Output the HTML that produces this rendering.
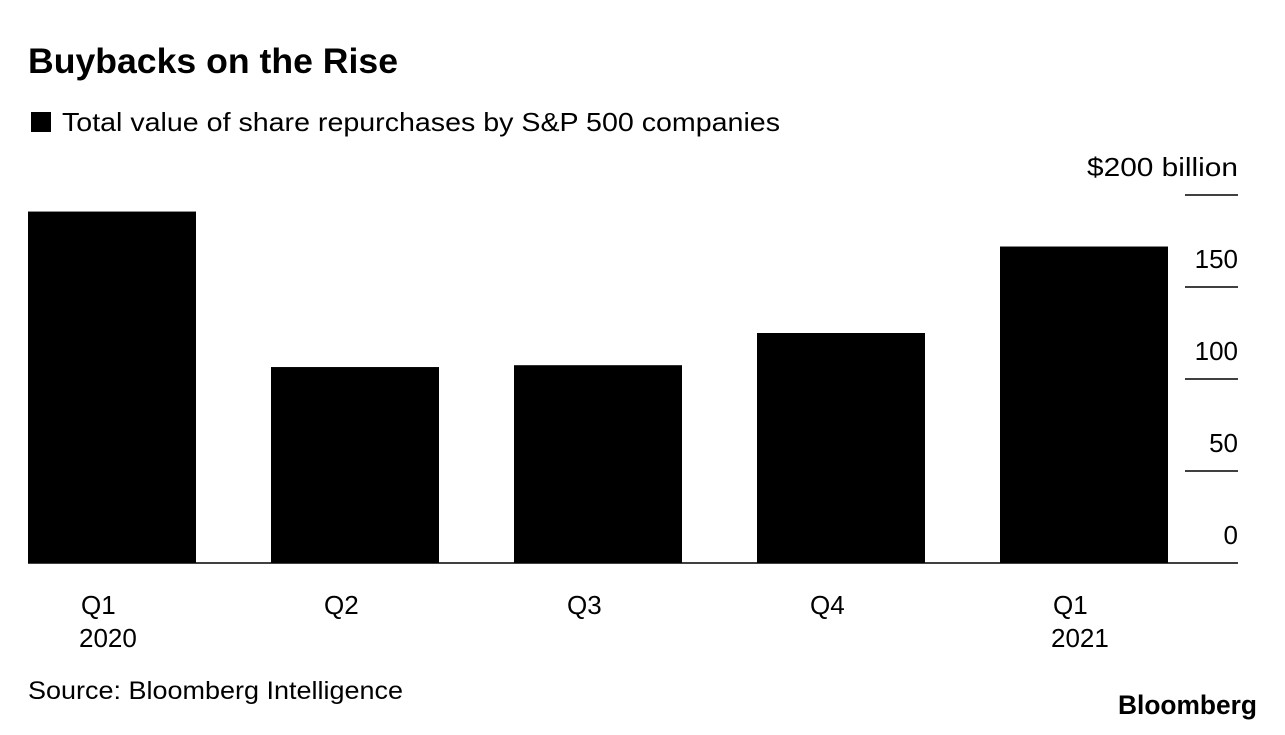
<!DOCTYPE html>
<html><head><meta charset="utf-8"><style>
body{margin:0;background:#fff;width:1285px;height:730px;overflow:hidden;font-family:"Liberation Sans",Arial,sans-serif;color:#000}
</style></head><body>
<svg width="1285" height="730" xmlns="http://www.w3.org/2000/svg" font-family="Liberation Sans, Arial, sans-serif">
<text x="28" y="73" font-size="35" font-weight="bold" textLength="370" lengthAdjust="spacingAndGlyphs">Buybacks on the Rise</text>
<rect x="31" y="112" width="20" height="20" fill="#000"/>
<text x="62" y="131" font-size="26" textLength="718" lengthAdjust="spacingAndGlyphs">Total value of share repurchases by S&amp;P 500 companies</text>
<g id="grid"></g><g id="bars"></g><g id="xl"></g>
<text x="28" y="699" font-size="25" textLength="375" lengthAdjust="spacingAndGlyphs">Source: Bloomberg Intelligence</text>
<text x="1257" y="714" font-size="27" font-weight="bold" text-anchor="end" textLength="139" lengthAdjust="spacingAndGlyphs">Bloomberg</text>
</svg>
<script>
const categories=["Q1","Q2","Q3","Q4","Q1"];
const years=["2020","","","","2021"];
const values=[191,106.5,107.5,125,172];
const ticks=[0,50,100,150,200];
const tickLabels=["0","50","100","150","$200 billion"];
const NS="http://www.w3.org/2000/svg";
const y0=563,pxPer=1.84;
const y=v=>y0-v*pxPer;
const x=i=>28+i*243;
const bw=168;
function mk(t,a,p){const e=document.createElementNS(NS,t);for(const k in a)e.setAttribute(k,a[k]);p.appendChild(e);return e;}
const g=document.getElementById('grid'),b=document.getElementById('bars'),xl=document.getElementById('xl');
ticks.forEach((t,i)=>{
 if(t>0){const l=mk('line',{x1:1185,x2:1238,y1:y(t),y2:y(t),stroke:'#000','stroke-width':1.5},g);
 
 }
 const a={x:1238,y:y(t)-19,'font-size':26,'text-anchor':'end'};
 if(t===200){a.textLength=151;a.lengthAdjust='spacingAndGlyphs';}
 const tx=mk('text',a,g);tx.textContent=tickLabels[i];
 
 
});
values.forEach((v,i)=>{
 const r=mk('rect',{x:x(i),y:y(v),width:bw,height:v*pxPer,fill:'#000'},b);
 
 
 const cx=x(i)+bw/2;
 const t=mk('text',{x:cx-31,y:614,'font-size':26},xl);t.textContent=categories[i];
 
 
 if(years[i]){const t2=mk('text',{x:cx-33,y:647,'font-size':26},xl);t2.textContent=years[i];
 
 }
});
const base=mk('line',{x1:28,x2:1238,y1:y0,y2:y0,stroke:'#000','stroke-width':1.5},g);


</script>
</body></html>
